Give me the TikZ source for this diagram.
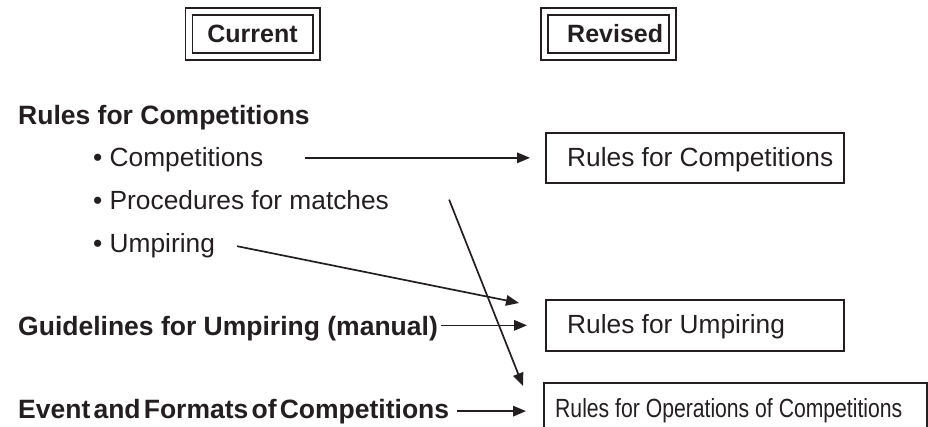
\documentclass[tikz,border=0pt]{standalone}
\usepackage{fontspec}
\setmainfont{Liberation Sans}
\usetikzlibrary{arrows.meta,calc}
\definecolor{ink}{RGB}{35,31,32}
\begin{document}
\begin{tikzpicture}[x=1pt,y=-1pt,
  txt/.style={inner sep=0pt, anchor=base west, text=ink, font=\fontsize{26.3pt}{30pt}\selectfont},
  head/.style={txt, font=\fontsize{26.5pt}{30pt}\selectfont\bfseries},
  toptxt/.style={inner sep=0pt, text=ink, font=\fontsize{25pt}{30pt}\selectfont\bfseries},
  box/.style={draw=ink, line width=1.7pt, inner sep=0pt, anchor=north west},
  dbox/.style={draw=ink, line width=1.8pt, double=white, double distance=5.2pt, inner sep=0pt, anchor=north west},
  arr/.style={draw=ink, line width=1.7pt, -{Triangle[length=13pt,width=10.5pt]}}
]
\useasboundingbox (0,0) rectangle (928,427);
\clip (0,0) rectangle (928,427);

% header boxes
\node[dbox, minimum width=127.5pt, minimum height=45pt] (curbox) at (188,10.5) {};
\node[toptxt, anchor=base] (cur) at (252.5,43) {Current};
\node[dbox, minimum width=128pt, minimum height=45pt] (revbox) at (543.5,10.5) {};
\node[toptxt, anchor=base west] (rev) at (567,43) {Revised};

% left column
\node[head] (rfc) at (18,125) {Rules for Competitions};
\node[txt] (comp) at (93,167) {• Competitions};
\node[txt] (proc) at (93,210) {• Procedures for matches};
\node[txt] (ump) at (93,253) {• Umpiring};
\node[head] (gfu) at (18,335) {Guidelines for Umpiring (manual)};
\node[head] (evt) at (18,418) {Event\hspace{3.2pt}and\hspace{3.2pt}Formats\hspace{3.2pt}of\hspace{3.2pt}Competitions};

% right column boxes
\node[box, minimum width=298pt, minimum height=50pt] (rc) at (545,132) {};
\node[txt] (rct) at (567,167) {Rules for Competitions};
\node[box, minimum width=298pt, minimum height=51pt] (ru) at (545,299) {};
\node[txt] (rut) at (567,334) {Rules for Umpiring};
\node[box, minimum width=383pt, minimum height=80pt] (ro) at (543,382) {};
\node[txt] (rot) at (555,417) {\scalebox{0.805}[1]{Rules for Operations of Competitions}};

% connectors
\draw[arr] ($(comp.east |- rc.west)+(42,0)$) -- ($(rc.west)+(-15,0)$);
\draw[arr] ($(proc.east)+(60,-1)$) -- ($(ro.north west)+(-20,4)$);
\draw[arr] ($(ump.east)+(22,0)$) -- ($(ru.north west)+(-26,4)$);
\draw[arr] ($(gfu.east |- ru.west)+(3,0)$) -- ($(ru.west)+(-18,0)$);
\draw[arr] ($(evt.east)+(8,0)$) -- ($(evt.east -| ro.north west)+(-17,0)$);
\end{tikzpicture}
\end{document}
